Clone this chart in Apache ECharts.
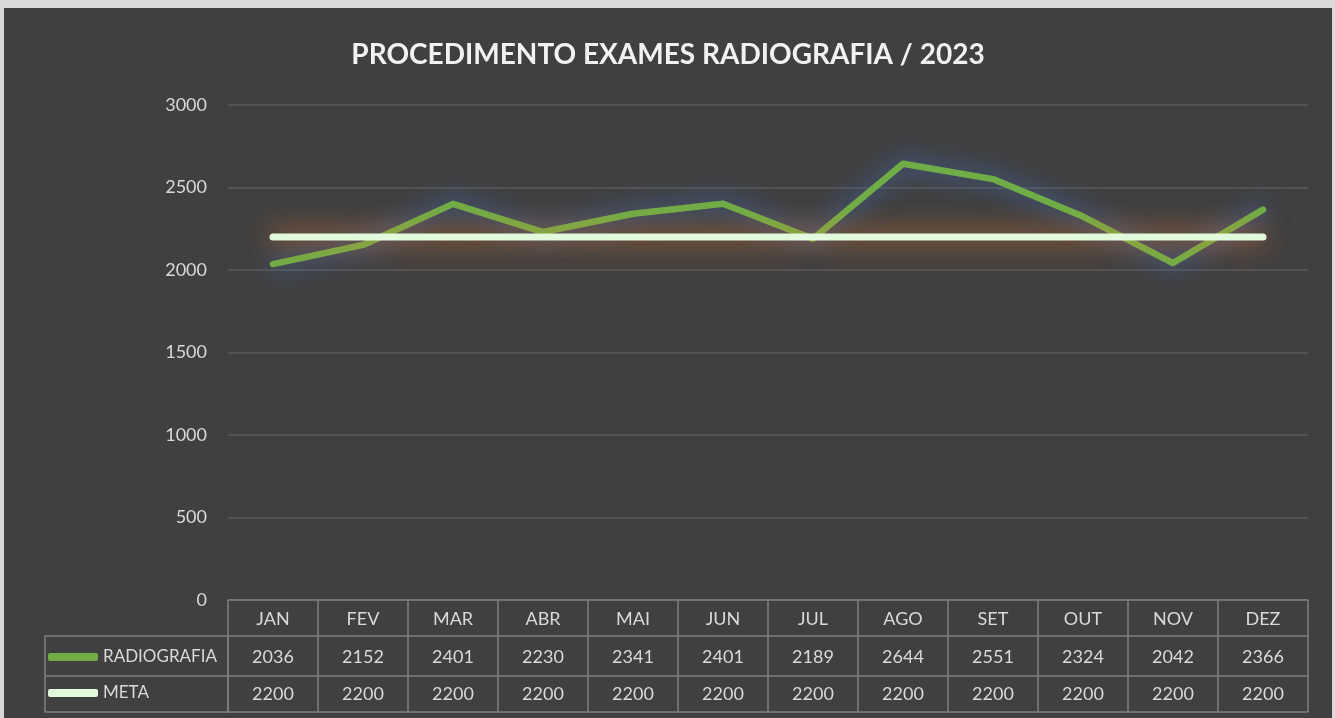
<!DOCTYPE html>
<html>
<head>
<meta charset="utf-8">
<script src="https://cdn.jsdelivr.net/npm/echarts@6/dist/echarts.min.js"></script>
<style>
  html, body { margin: 0; padding: 0; background: #d9d9d9; }
  #main { position: absolute; left: 4px; top: 8px; width: 1328px; height: 710px; }
</style>
</head>
<body>
<div id="main"></div>
<script>
const months = ["JAN", "FEV", "MAR", "ABR", "MAI", "JUN", "JUL", "AGO", "SET", "OUT", "NOV", "DEZ"]
const radiografia = [2036, 2152, 2401, 2230, 2341, 2401, 2189, 2644, 2551, 2324, 2042, 2366]
const meta = [2200, 2200, 2200, 2200, 2200, 2200, 2200, 2200, 2200, 2200, 2200, 2200]

const FONT = "Lato"
const TXT = "#d9d9d9"
const BORDER = "#7f7f7f"
const GREEN = "#70ad47"
const MINT = "#e2fadb"

var myChart = echarts.init(document.getElementById("main"))

// eixos do "quadro de dados" embaixo do gráfico
function tableAxis(data, offset, tickLen, margin, showLabel) {
  return {
    type: "category",
    data: data,
    position: "bottom",
    offset: offset,
    boundaryGap: true,
    axisLine: { show: true, lineStyle: { color: BORDER, width: 1.5 } },
    axisTick: { show: tickLen > 0, length: tickLen, inside: false, lineStyle: { color: BORDER, width: 1.5 } },
    axisLabel: { show: showLabel, color: TXT, fontFamily: FONT, fontSize: 18, margin: margin },
    splitLine: { show: false }
  }
}

let option = {
  backgroundColor: "#404040",
  animation: false,
  title: {
    text: "PROCEDIMENTO EXAMES RADIOGRAFIA / 2023",
    left: "center",
    top: 28,
    textStyle: { color: "#f2f2f2", fontFamily: FONT, fontWeight: "bold", fontSize: 28 }
  },
  legend: {
    orient: "vertical",
    left: 44,
    top: 639,
    padding: 0,
    itemWidth: 50,
    itemHeight: 8,
    itemGap: 16,
    icon: "roundRect",
    textStyle: { color: TXT, fontFamily: FONT, fontSize: 17, lineHeight: 20 },
    data: ["RADIOGRAFIA", "META"]
  },
  grid: { left: 224, right: 24, top: 97, bottom: 118, containLabel: false },
  xAxis: [
    tableAxis(months, 0, 36, 10, true),
    tableAxis(radiografia.map(String), 36, 40, 12, true),
    tableAxis(meta.map(String), 76, 36, 9, true),
    tableAxis(months, 112, 0, 0, false)
  ],
  yAxis: {
    type: "value",
    min: 0,
    max: 3000,
    interval: 500,
    axisLine: { show: false },
    axisTick: { show: false },
    axisLabel: { color: TXT, fontFamily: FONT, fontSize: 18, margin: 21, formatter: v => String(v) },
    splitLine: { lineStyle: { color: "#5a5a5a", width: 1.5 } }
  },
  graphic: [
    { type: "rect", shape: { x: 41, y: 628, width: 183, height: 76 }, style: { fill: "none", stroke: BORDER, lineWidth: 1.5 } },
    { type: "line", shape: { x1: 41, y1: 668, x2: 224, y2: 668 }, style: { stroke: BORDER, lineWidth: 1.5 } }
  ],
  series: [
    {
      name: "RADIOGRAFIA",
      type: "line",
      data: radiografia,
      xAxisIndex: 0,
      symbol: "none",
      color: GREEN,
      z: 3,
      lineStyle: { width: 6.5, color: GREEN, cap: "round", join: "round", shadowBlur: 24, shadowColor: "rgba(68,114,196,1)" }
    },
    {
      name: "META",
      type: "line",
      data: meta,
      xAxisIndex: 0,
      symbol: "none",
      color: MINT,
      z: 4,
      lineStyle: { width: 7, color: MINT, cap: "round", shadowBlur: 28, shadowColor: "rgba(237,125,49,1)" }
    }
  ]
}

myChart.setOption(option)
</script>
</body>
</html>
